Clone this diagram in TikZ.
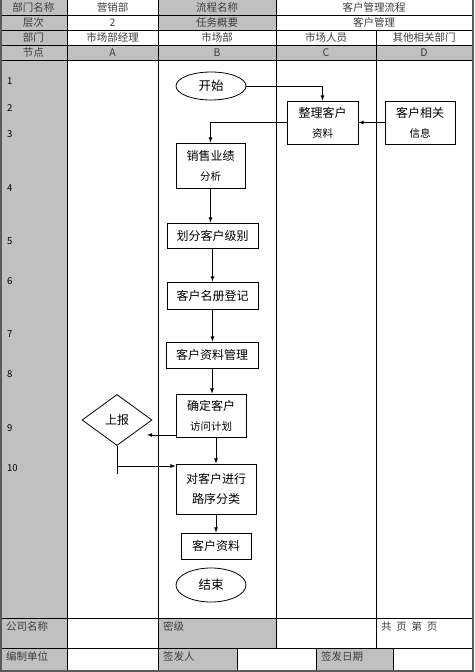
\documentclass[tikz,border=0pt]{standalone}
\usepackage{fontspec}
\setmainfont{Noto Sans CJK SC}
\usepackage{xcolor}
\usetikzlibrary{shapes,arrows,calc,positioning}
\definecolor{cellgray}{RGB}{192,192,192}
\definecolor{framegray}{RGB}{90,90,90}
\definecolor{headtext}{RGB}{60,60,60}

\tikzset{
  flowbox/.style={draw, thick, rectangle, inner sep=1pt, align=center, font=\fontsize{12}{20}\selectfont},
  endbox/.style={draw, thick, ellipse, inner sep=0pt, minimum width=70pt, font=\fontsize{12.5}{14}\selectfont},
  headcell/.style={inner sep=0pt, text=headtext, font=\fontsize{10.5}{12}\selectfont},
  footcell/.style={inner sep=0pt, anchor=north west, text=headtext, font=\fontsize{10.5}{12}\selectfont},
  rownum/.style={inner sep=0pt, anchor=west, font=\fontsize{9.5}{11}\selectfont},
  flowarrow/.style={->, >=latex, thick}
}
\newcommand{\sline}[1]{{\fontsize{10.5}{11}\selectfont #1}}

\begin{document}
\begin{tikzpicture}[x=1pt, y=-1pt]
\useasboundingbox (0,0) rectangle (474,672);

% gray cells
\fill[cellgray] (0,0) rectangle (67,672);
\fill[cellgray] (158,0) rectangle (276,30);
\fill[cellgray] (0,45) rectangle (472,60);
\fill[cellgray] (158,618) rectangle (276,648);
\fill[cellgray] (158,648) rectangle (237,672);
\fill[cellgray] (316,648) rectangle (393,672);

% table lines
\draw[thin] (0,15) -- (472,15);
\draw[thin] (0,30) -- (472,30);
\draw[thin] (0,45) -- (472,45);
\draw[thin] (0,60) -- (472,60);
\draw[thin] (0,618) -- (472,618);
\draw[thin] (0,648) -- (472,648);
\draw[thin] (67,0) -- (67,672);
\draw[thin] (158,0) -- (158,672);
\draw[thin] (276,0) -- (276,648);
\draw[thin] (376,30) -- (376,648);
\draw[thin] (237,648) -- (237,672);
\draw[thin] (316,648) -- (316,672);
\draw[thin] (393,648) -- (393,672);
\draw[framegray, line width=2.5pt] (1.2,0) -- (1.2,670.8) -- (472.8,670.8) -- (472.8,0);

% header
\node[headcell] (h11) at (33.5,7.5) {部门名称};
\node[headcell] (h12) at (112.5,7.5) {营销部};
\node[headcell] (h13) at (217,7.5) {流程名称};
\node[headcell] (h14) at (374,7.5) {客户管理流程};
\node[headcell] (h21) at (33.5,22.5) {层次};
\node[headcell] (h22) at (112.5,22.5) {2};
\node[headcell] (h23) at (217,22.5) {任务概要};
\node[headcell] (h24) at (374,22.5) {客户管理};
\node[headcell] (h31) at (33.5,37.5) {部门};
\node[headcell] (h32) at (112.5,37.5) {市场部经理};
\node[headcell] (h33) at (217,37.5) {市场部};
\node[headcell] (h34) at (326,37.5) {市场人员};
\node[headcell] (h35) at (424,37.5) {其他相关部门};
\node[headcell] (h41) at (33.5,52.5) {节点};
\node[headcell] (h42) at (112.5,52.5) {A};
\node[headcell] (h43) at (217,52.5) {B};
\node[headcell] (h44) at (326,52.5) {C};
\node[headcell] (h45) at (424,52.5) {D};

% row numbers
\node[rownum] (r1) at (7,81) {1};
\node[rownum] (r2) at (7,108) {2};
\node[rownum] (r3) at (7,134) {3};
\node[rownum] (r4) at (7,188) {4};
\node[rownum] (r5) at (7,241) {5};
\node[rownum] (r6) at (7,281) {6};
\node[rownum] (r7) at (7,334) {7};
\node[rownum] (r8) at (7,374) {8};
\node[rownum] (r9) at (7,428) {9};
\node[rownum] (r10) at (7,468) {10};

% footer
\node[footcell] (f1) at (6,621) {公司名称};
\node[footcell] (f2) at (163,621) {密级};
\node[footcell] (f3) at (381,621) {共\ \ 页\ \ 第\ \ 页};
\node[footcell] (f4) at (6,651) {编制单位};
\node[footcell] (f5) at (163,651) {签发人};
\node[footcell] (f6) at (321,651) {签发日期};

% flow
\node[endbox, minimum height=28pt] (start) at (211,86) {开始};
\node[flowbox, minimum width=71pt, minimum height=43pt] (zhengli) at (322.5,122.5) {整理客户\\\sline{资料}};
\node[flowbox, minimum width=70pt, minimum height=43pt] (xiangguan) at (420,122.5) {客户相关\\\sline{信息}};
\node[flowbox, minimum width=69pt, minimum height=45pt] (xiaoshou) at (210.5,165.5) {销售业绩\\\sline{分析}};
\node[flowbox, minimum width=91pt, minimum height=25pt] (huafen) at (212.5,235.5) {划分客户级别};
\node[flowbox, minimum width=91pt, minimum height=27pt] (mingce) at (212.5,295.5) {客户名册登记};
\node[flowbox, minimum width=92pt, minimum height=26pt] (guanli) at (212,355) {客户资料管理};
\node[flowbox, minimum width=70pt, minimum height=43pt] (queding) at (211,415.5) {确定客户\\\sline{访问计划}};
\node[draw, thick, diamond, inner sep=0pt, minimum width=70pt, minimum height=51pt, font=\fontsize{12}{13}\selectfont] (shangbao) at (117,420) {上报};
\node[flowbox, minimum width=80pt, minimum height=50pt] (duikehu) at (216,489) {对客户进行\\路序分类};
\node[flowbox, minimum width=70pt, minimum height=26pt] (ziliao) at (216,546) {客户资料};
\node[endbox, minimum height=34pt] (end) at (211,585) {结束};

\coordinate (sbin) at (147,435);
\coordinate (fork) at (117,466);
\coordinate (sbend) at (117,474);

\draw[flowarrow] (start.east) -| (zhengli.north);
\draw[flowarrow] (xiangguan.west) -- (zhengli.east);
\draw[flowarrow] (zhengli.west) -| (xiaoshou.north);
\draw[flowarrow] (xiaoshou.south) -- (xiaoshou.south |- huafen.north);
\draw[flowarrow] (huafen.south) -- (huafen.south |- mingce.north);
\draw[flowarrow] (mingce.south) -- (mingce.south |- guanli.north);
\draw[flowarrow] (guanli.south) -- (guanli.south |- queding.north);
\draw[flowarrow] (queding.west |- sbin) -- (sbin);
\draw[thick] (shangbao.south) -- (sbend);
\draw[flowarrow] (fork) -- (duikehu.west |- fork);
\draw[flowarrow] (queding.south -| duikehu.north) -- (duikehu.north);
\draw[flowarrow] (duikehu.south) -- (ziliao.north);
\end{tikzpicture}
\end{document}
